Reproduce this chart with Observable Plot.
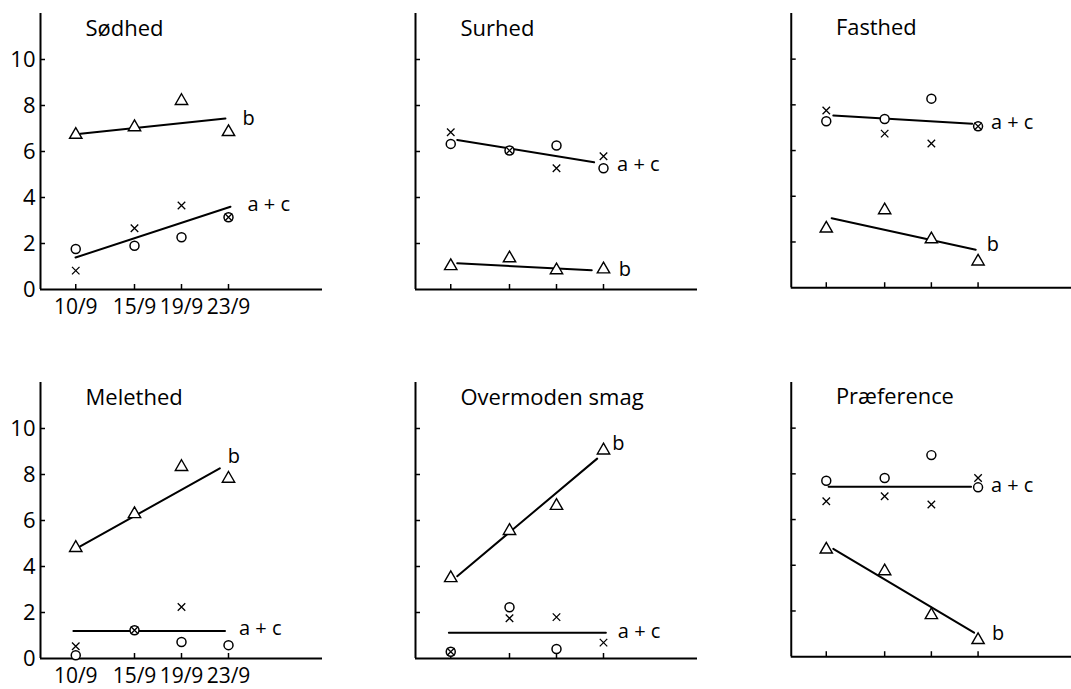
<!DOCTYPE html>
<html>
<head>
<meta charset="utf-8">
<script src="https://cdn.jsdelivr.net/npm/d3@7"></script>
<script src="https://cdn.jsdelivr.net/npm/@observablehq/plot@0.6"></script>
<style>
  html, body { margin: 0; padding: 0; background: #fff; overflow: hidden; }
  #chart { position: relative; width: 1071px; height: 689px; }
  .panel { position: absolute; }
</style>
</head>
<body>
<div id="chart"></div>
<script>
// ---- data ----
const days = [10, 15, 19, 23];
const dayLabels = ["10/9", "15/9", "19/9", "23/9"];
const yTicks = [2, 4, 6, 8, 10];
const yTickLabels = [0, 2, 4, 6, 8, 10];
const titles = ["Sødhed", "Surhed", "Fasthed", "Melethed", "Overmoden smag", "Præference"];

// b (triangles)
const bValues = [
  [6.73, 7.06, 8.2, 6.85],
  [1.02, 1.36, 0.84, 0.88],
  [2.59, 3.39, 2.12, 1.15],
  [4.81, 6.28, 8.33, 7.82],
  [3.5, 5.55, 6.64, 9.05],
  [4.69, 3.74, 1.82, 0.73]
];
// a (circles)
const aValues = [
  [1.76, 1.9, 2.27, 3.14],
  [6.33, 6.04, 6.26, 5.27],
  [7.28, 7.38, 8.27, 7.06],
  [0.14, 1.23, 0.72, 0.58],
  [0.29, 2.23, 0.41, null],
  [7.7, 7.82, 8.82, 7.41]
];
// c (crosses)
const cValues = [
  [0.82, 2.66, 3.65, 3.14],
  [6.84, 6.04, 5.27, 5.79],
  [7.75, 6.74, 6.31, 7.06],
  [0.53, 1.23, 2.24, null],
  [0.29, 1.75, 1.8, 0.69],
  [6.8, 7.02, 6.66, 7.82]
];
// fitted lines: start/end day and start/end value
const bFitX = [[10.4, 22.74], [10.55, 22.0], [10.46, 22.8], [10.34, 22.26], [10.55, 22.46], [10.6, 22.66]];
const bFitY = [[6.77, 7.43], [1.14, 0.84], [3.04, 1.66], [4.86, 8.27], [3.58, 8.69], [4.72, 1.05]];
const acFitX = [[9.98, 23.17], [10.55, 22.2], [10.6, 22.5], [9.8, 22.7], [9.84, 23.2], [10.2, 22.4]];
const acFitY = [[1.39, 3.6], [6.5, 5.53], [7.53, 7.17], [1.2, 1.2], [1.12, 1.12], [7.44, 7.44]];
const bLabel = "b";
const acLabel = "a + c";

// ---- layout (not data) ----
const colLeft = [0, 375, 751];
const rowTop = [0, 369];
const labelOffsets = [
  {b: [17, 0], ac: [17, -2.5]},
  {b: [27, -1], ac: [23, 2]},
  {b: [11, -5], ac: [19, -1]},
  {b: [8, -12], ac: [14, -2]},
  {b: [15, -15], ac: [12, -1]},
  {b: [18, 1], ac: [20, -1]}
];

const font = "'Open Sans', 'DejaVu Sans', sans-serif";
const labelMap = new Map(days.map((d, i) => [d, dayLabels[i]]));
const chart = document.getElementById("chart");

titles.forEach((title, p) => {
  const col = p % 3, row = Math.floor(p / 3);
  const pts = (vals) => days.map((d, i) => ({day: d, v: vals[i]}));
  const fit = (xs, ys) => xs.map((x, i) => ({day: x, v: ys[i]}));
  const bFit = fit(bFitX[p], bFitY[p]);
  const acFit = fit(acFitX[p], acFitY[p]);
  const off = labelOffsets[p];

  const marks = [
    Plot.ruleX([7], {stroke: "black", strokeWidth: 2}),
    Plot.ruleY([0], {stroke: "black", strokeWidth: 2}),
    // inward tick marks only
    Plot.axisY(yTicks, {anchor: "left", tickSize: 5, dx: 5, strokeWidth: 1.5, fill: "none", label: null}),
    Plot.axisX(days, {anchor: "bottom", tickSize: 5, dy: -5, strokeWidth: 1.5, fill: "none", label: null})
  ];
  if (col === 0) {
    marks.push(
      Plot.axisY(yTickLabels, {anchor: "left", tickSize: 0, tickPadding: 5, fontSize: 22, fill: "black", label: null}),
      Plot.axisX(days, {anchor: "bottom", tickSize: 0, tickPadding: 10, fontSize: 21, fill: "black", label: null,
        tickFormat: d => labelMap.get(d)})
    );
  }
  marks.push(
    Plot.line(bFit, {x: "day", y: "v", stroke: "black", strokeWidth: 2}),
    Plot.line(acFit, {x: "day", y: "v", stroke: "black", strokeWidth: 2}),
    Plot.dot(pts(bValues[p]), {x: "day", y: "v", symbol: "triangle", r: 4.6, fill: "white", stroke: "black", strokeWidth: 1.4}),
    Plot.dot(pts(aValues[p]), {x: "day", y: "v", symbol: "circle", r: 4.5, fill: "white", stroke: "black", strokeWidth: 1.5}),
    Plot.dot(pts(cValues[p]), {x: "day", y: "v", symbol: "times", r: 3.5, stroke: "black", strokeWidth: 1.3}),
    Plot.text([title], {frameAnchor: "top-left", text: d => d, dx: 45, dy: 22, lineAnchor: "bottom",
      textAnchor: "start", fontSize: 22, fill: "black"}),
    Plot.text([bFit[1]], {x: "day", y: "v", text: () => bLabel, dx: off.b[0], dy: off.b[1],
      textAnchor: "start", lineAnchor: "middle", fontSize: 20, fill: "black"}),
    Plot.text([acFit[1]], {x: "day", y: "v", text: () => acLabel, dx: off.ac[0], dy: off.ac[1],
      textAnchor: "start", lineAnchor: "middle", fontSize: 20, fill: "black"})
  );

  const svg = Plot.plot({
    width: 322, height: 330,
    marginLeft: 40, marginRight: 0, marginTop: 13, marginBottom: 41,
    x: {domain: [7, 31], axis: null},
    y: {domain: [0, 12], axis: null},
    style: {fontFamily: font, color: "black", background: "transparent", overflow: "visible"},
    marks
  });
  const div = document.createElement("div");
  div.className = "panel";
  div.style.left = colLeft[col] + "px";
  div.style.top = rowTop[row] + "px";
  div.appendChild(svg);
  chart.appendChild(div);
});
</script>
</body>
</html>
